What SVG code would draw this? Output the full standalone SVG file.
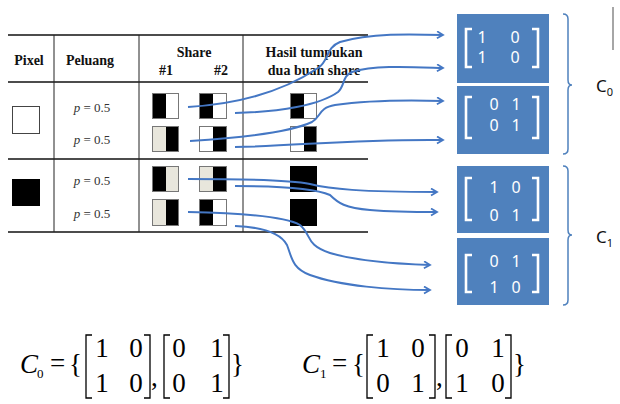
<svg xmlns="http://www.w3.org/2000/svg" width="620" height="404" viewBox="0 0 620 404">
  <style>
    .hd { font-family: "Liberation Serif", serif; font-weight: bold; font-size: 14px; fill: #111; text-anchor: middle; }
    .pr { font-family: "Liberation Serif", serif; font-size: 13px; fill: #333; text-anchor: middle; }
    .tl { stroke: #111; stroke-width: 1.6; fill: none; }
    .vl { stroke: #222; stroke-width: 1; fill: none; }
    .sq { stroke: #777; stroke-width: 1; }
    .blk { fill: #000; }
    .wht { fill: #fff; }
    .bei { fill: #e8e6dc; }
    .box { fill: #4f81bd; }
    .mx { font-family: "Noto Sans", "Open Sans", sans-serif; font-size: 16px; fill: #fff; text-anchor: middle; }
    .br { stroke: #fff; stroke-width: 2.6; fill: none; }
    .brace { stroke: #4f81bd; stroke-width: 1.5; fill: none; }
    .lab { font-family: "Noto Sans", "Open Sans", sans-serif; font-size: 17px; fill: #111; }
    .conn path { stroke: #4477c4; stroke-width: 2; fill: none; marker-end: url(#arr); }
    .eq { font-family: "Liberation Serif", serif; font-size: 27px; fill: #000; }
    .eqc { text-anchor: middle; }
    .sub { font-family: "Liberation Serif", serif; font-size: 13px; fill: #000; }
    .eb { stroke: #000; stroke-width: 1.3; fill: none; }
  </style>
  <defs>
    <marker id="arr" markerWidth="10" markerHeight="10" refX="7" refY="4" orient="auto" markerUnits="userSpaceOnUse">
      <path d="M1,0.5 L7,4 L1,7.5" fill="none" stroke="#4477c4" stroke-width="1.8"/>
    </marker>
  </defs>

  <!-- table rules -->
  <g id="table">
    <line class="tl" x1="8" y1="35" x2="368" y2="35" stroke-width="2"/>
    <line class="tl" x1="8" y1="82" x2="368" y2="82"/>
    <line class="tl" x1="8" y1="159" x2="368" y2="159"/>
    <line class="tl" x1="8" y1="232" x2="368" y2="232"/>
    <line class="vl" x1="54" y1="35" x2="54" y2="232"/>
    <line class="vl" x1="139" y1="35" x2="139" y2="232"/>
    <line class="vl" x1="243" y1="35" x2="243" y2="232"/>
    <text class="hd" x="29" y="65">Pixel</text>
    <text class="hd" x="90" y="65">Peluang</text>
    <text class="hd" x="194" y="57">Share</text>
    <text class="hd" x="166" y="75">#1</text>
    <text class="hd" x="221" y="75">#2</text>
    <text class="hd" x="314" y="57">Hasil tumpukan</text>
    <text class="hd" x="314" y="75">dua buah share</text>
  </g>

  <!-- white pixel row -->
  <g id="row-white">
    <rect x="12.5" y="106.5" width="27" height="27" fill="#fff" stroke="#444" stroke-width="1"/>
    <text class="pr" x="92" y="112"><tspan font-style="italic">p</tspan> = 0.5</text>
    <text class="pr" x="92" y="144"><tspan font-style="italic">p</tspan> = 0.5</text>
    <!-- share #1 -->
    <rect class="blk" x="152" y="93" width="14" height="26"/>
    <rect class="wht" x="166" y="93" width="13" height="26"/>
    <rect class="sq" x="152.5" y="93.5" width="26" height="25" fill="none"/>
    <rect class="bei" x="152" y="126" width="14" height="26"/>
    <rect class="blk" x="166" y="126" width="13" height="26"/>
    <rect class="sq" x="152.5" y="126.5" width="26" height="25" fill="none"/>
    <!-- share #2 -->
    <rect class="blk" x="199" y="93" width="14" height="26"/>
    <rect class="wht" x="213" y="93" width="14" height="26"/>
    <rect class="sq" x="199.5" y="93.5" width="27" height="25" fill="none"/>
    <rect class="wht" x="199" y="126" width="14" height="26"/>
    <rect class="blk" x="213" y="126" width="14" height="26"/>
    <rect class="sq" x="199.5" y="126.5" width="27" height="25" fill="none"/>
    <!-- stacked -->
    <rect class="blk" x="290" y="93" width="14" height="26"/>
    <rect class="wht" x="304" y="93" width="13" height="26"/>
    <rect class="sq" x="290.5" y="93.5" width="26" height="25" fill="none"/>
    <rect class="wht" x="290" y="126" width="14" height="26"/>
    <rect class="blk" x="304" y="126" width="13" height="26"/>
    <rect class="sq" x="290.5" y="126.5" width="26" height="25" fill="none"/>
  </g>

  <!-- black pixel row -->
  <g id="row-black">
    <rect x="12" y="179" width="28" height="27" fill="#000"/>
    <text class="pr" x="92" y="185"><tspan font-style="italic">p</tspan> = 0.5</text>
    <text class="pr" x="92" y="218"><tspan font-style="italic">p</tspan> = 0.5</text>
    <!-- share #1 -->
    <rect class="blk" x="152" y="166" width="14" height="26"/>
    <rect class="bei" x="166" y="166" width="13" height="26"/>
    <rect class="sq" x="152.5" y="166.5" width="26" height="25" fill="none"/>
    <rect class="bei" x="152" y="199" width="14" height="27"/>
    <rect class="blk" x="166" y="199" width="13" height="27"/>
    <rect class="sq" x="152.5" y="199.5" width="26" height="26" fill="none"/>
    <!-- share #2 -->
    <rect class="bei" x="199" y="166" width="14" height="26"/>
    <rect class="blk" x="213" y="166" width="14" height="26"/>
    <rect class="sq" x="199.5" y="166.5" width="27" height="25" fill="none"/>
    <rect class="blk" x="199" y="199" width="14" height="27"/>
    <rect class="wht" x="213" y="199" width="14" height="27"/>
    <rect class="sq" x="199.5" y="199.5" width="27" height="26" fill="none"/>
    <!-- stacked -->
    <rect class="blk" x="290" y="166" width="27" height="26"/>
    <rect class="blk" x="290" y="199" width="27" height="27"/>
  </g>

  <!-- matrix boxes -->
  <g id="m1">
    <rect class="box" x="457" y="14" width="92" height="69"/>
    <path class="br" d="M472,29 H466 V67 H472"/>
    <path class="br" d="M532,29 H538 V67 H532"/>
    <text class="mx" x="482" y="43">1</text>
    <text class="mx" x="515" y="43">0</text>
    <text class="mx" x="482" y="63">1</text>
    <text class="mx" x="515" y="63">0</text>
  </g>
  <g id="m2">
    <rect class="box" x="457" y="86" width="92" height="68"/>
    <path class="br" d="M472,97 H466 V138 H472"/>
    <path class="br" d="M532,97 H538 V138 H532"/>
    <text class="mx" x="494" y="110">0</text>
    <text class="mx" x="516" y="110">1</text>
    <text class="mx" x="494" y="131">0</text>
    <text class="mx" x="516" y="131">1</text>
  </g>
  <g id="m3">
    <rect class="box" x="457" y="166" width="92" height="67"/>
    <path class="br" d="M472,178 H466 V220 H472"/>
    <path class="br" d="M532,178 H538 V220 H532"/>
    <text class="mx" x="494" y="193">1</text>
    <text class="mx" x="516" y="193">0</text>
    <text class="mx" x="494" y="221">0</text>
    <text class="mx" x="516" y="221">1</text>
  </g>
  <g id="m4">
    <rect class="box" x="457" y="238" width="92" height="67"/>
    <path class="br" d="M472,255 H466 V292 H472"/>
    <path class="br" d="M532,255 H538 V292 H532"/>
    <text class="mx" x="494" y="267">0</text>
    <text class="mx" x="516" y="267">1</text>
    <text class="mx" x="494" y="293">1</text>
    <text class="mx" x="516" y="293">0</text>
  </g>

  <!-- collection braces and labels -->
  <g id="c0">
    <path class="brace" d="M563,14 Q568,14 568,19 V80 Q568,85 572,85 Q568,85 568,90 V149 Q568,154 563,154"/>
    <text class="lab" x="596" y="92">C<tspan font-size="11" dy="4">0</tspan></text>
  </g>
  <g id="c1">
    <path class="brace" d="M563,166 Q568,166 568,171 V230 Q568,235 572,235 Q568,235 568,240 V300 Q568,305 563,305"/>
    <text class="lab" x="596" y="243">C<tspan font-size="11" dy="4">1</tspan></text>
  </g>
  <line x1="613" y1="7" x2="613" y2="50" stroke="#888" stroke-width="1.5"/>

  <!-- connectors -->
  <g class="conn" id="connectors">
    <path d="M188,107 C240,104 285,90 318,68 C330,60 325,48 340,42 C370,33 410,34 443,35"/>
    <path d="M235,113 C280,112 320,105 338,92 C345,86 342,76 352,72 C375,65 410,67 443,68"/>
    <path d="M190,141 C240,138 290,132 312,122 C322,116 318,108 335,105 C370,100 410,100 443,101"/>
    <path d="M235,147 C300,146 350,139 443,140"/>
    <path d="M188,179 C240,179 290,180 310,184 C330,189 360,192 437,192"/>
    <path d="M235,186 C280,186 315,188 330,195 C338,203 345,208 370,210 C395,212 415,212 437,212"/>
    <path d="M188,212 C240,213 285,216 300,225 C312,235 305,245 330,253 C360,262 400,264 430,265"/>
    <path d="M235,226 C260,227 280,232 287,245 C292,258 292,268 310,275 C340,286 390,290 430,290"/>
  </g>

  <!-- set equations -->
  <g id="eq0">
    <text class="eq" x="20" y="373" font-style="italic" font-size="28">C</text>
    <text class="sub" x="37" y="378">0</text>
    <text class="eq" x="50" y="372">=</text>
    <text class="eq" x="69" y="373" font-size="26">{</text>
    <path class="eb" d="M92,335 H86 V398 H92"/>
    <text class="eq eqc" x="102" y="357">1</text>
    <text class="eq eqc" x="136" y="357">0</text>
    <text class="eq eqc" x="102" y="392">1</text>
    <text class="eq eqc" x="136" y="392">0</text>
    <path class="eb" d="M144,335 H150 V398 H144"/>
    <text class="eq" x="151" y="386">,</text>
    <path class="eb" d="M170,335 H164 V398 H170"/>
    <text class="eq eqc" x="179" y="357">0</text>
    <text class="eq eqc" x="217" y="357">1</text>
    <text class="eq eqc" x="179" y="392">0</text>
    <text class="eq eqc" x="217" y="392">1</text>
    <path class="eb" d="M223,335 H229 V398 H223"/>
    <text class="eq" x="231" y="373" font-size="26">}</text>
  </g>
  <g id="eq1">
    <text class="eq" x="302" y="373" font-style="italic" font-size="28">C</text>
    <text class="sub" x="320" y="378">1</text>
    <text class="eq" x="332" y="372">=</text>
    <text class="eq" x="352" y="373" font-size="26">{</text>
    <path class="eb" d="M373,335 H367 V398 H373"/>
    <text class="eq eqc" x="383" y="357">1</text>
    <text class="eq eqc" x="418" y="357">0</text>
    <text class="eq eqc" x="383" y="392">0</text>
    <text class="eq eqc" x="418" y="392">1</text>
    <path class="eb" d="M429,335 H435 V398 H429"/>
    <text class="eq" x="436" y="386">,</text>
    <path class="eb" d="M452,335 H446 V398 H452"/>
    <text class="eq eqc" x="462" y="357">0</text>
    <text class="eq eqc" x="498" y="357">1</text>
    <text class="eq eqc" x="462" y="392">1</text>
    <text class="eq eqc" x="498" y="392">0</text>
    <path class="eb" d="M505,335 H511 V398 H505"/>
    <text class="eq" x="513" y="373" font-size="26">}</text>
  </g>
</svg>
